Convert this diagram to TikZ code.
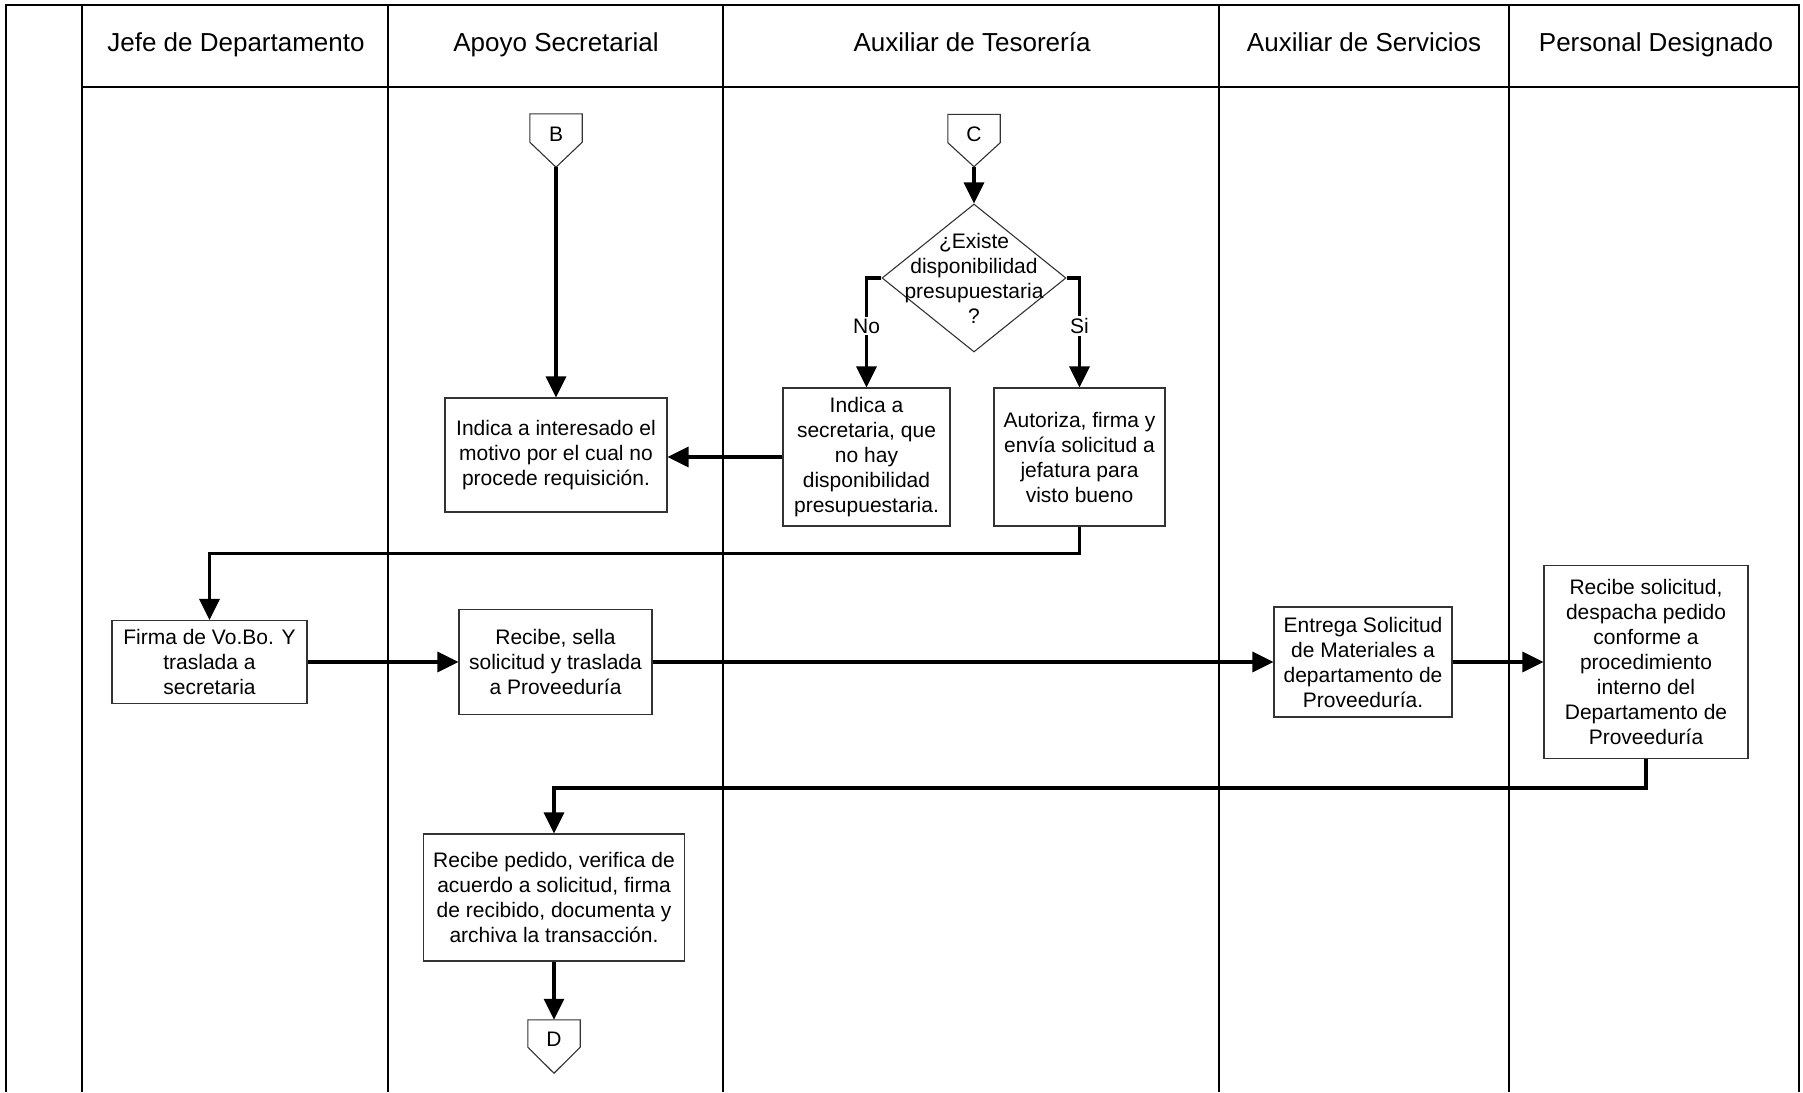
\documentclass[tikz,border=0pt]{standalone}
\usepackage{fontspec}
\setmainfont{Liberation Sans}
\usetikzlibrary{arrows.meta,shapes.geometric,calc}

\begin{document}
\begin{tikzpicture}[x=1pt,y=-1pt,
  every node/.style={font=\fontsize{21}{25}\selectfont, inner sep=0pt},
  frame/.style={line width=2.4pt, draw=black},
  lane/.style={line width=1.4pt, draw=black},
  header/.style={font=\fontsize{26}{30}\selectfont, anchor=base},
  procbox/.style={draw=black!80, line width=1.1pt, fill=white, align=center},
  conrect/.style={minimum width=52pt, minimum height=28pt},
  conshape/.style={draw=black!80, line width=1.1pt, fill=white},
  conn/.style={line width=3.2pt, -{Triangle[length=21pt,width=20pt]}},
  lbl/.style={fill=white, inner sep=2pt},
]
\useasboundingbox (0,0) rectangle (1803,1092);

% swimlane grid
\draw[frame] (6,1092) -- (6,5) -- (1799,5) -- (1799,1092);
\draw[lane] (82,5) -- (82,1092);
\draw[lane] (388,5) -- (388,1092);
\draw[lane] (723,5) -- (723,1092);
\draw[lane] (1219,5) -- (1219,1092);
\draw[lane] (1509,5) -- (1509,1092);
\draw[lane] (82,87) -- (1799,87);

% lane titles
\node[header] (h1) at (236,51) {Jefe de Departamento};
\node[header] (h2) at (556,51) {Apoyo Secretarial};
\node[header] (h3) at (972,51) {Auxiliar de Tesorería};
\node[header] (h4) at (1364,51) {Auxiliar de Servicios};
\node[header] (h5) at (1656,51) {Personal Designado};

% off-page connectors
\node[conrect] (B) at (556,128) {};
\draw[conshape] (B.north west) -- (B.north east) -- (B.south east)
  -- ($(B.south)+(0,25)$) -- (B.south west) -- cycle;
\coordinate (Btip) at ($(B.south)+(0,25)$);
\node[anchor=base] at ($(B.south)+(0,-1)$) {B};

\node[conrect] (C) at (974,128.5) {};
\draw[conshape] (C.north west) -- (C.north east) -- (C.south east)
  -- ($(C.south)+(0,24)$) -- (C.south west) -- cycle;
\coordinate (Ctip) at ($(C.south)+(0,24)$);
\node[anchor=base] at ($(C.south)+(0,-1)$) {C};

\node[conrect, minimum height=27pt] (D) at (554,1033.5) {};
\draw[conshape] (D.north west) -- (D.north east) -- (D.south east)
  -- ($(D.south)+(0,26)$) -- (D.south west) -- cycle;
\node[anchor=base] at ($(D.south)+(0,-1)$) {D};

% decision
\node[diamond, draw=black!80, line width=1.1pt, minimum width=184pt, minimum height=148pt] (dec) at (974,278) {};
\node[align=center] (dectext) at (974,278) {¿Existe\\disponibilidad\\presupuestaria\\?};

% process steps
\node[procbox, minimum width=222pt, minimum height=114pt] (ind1) at (556,455)
  {Indica a interesado el\\motivo por el cual no\\procede requisición.};
\node[procbox, minimum width=167pt, minimum height=138pt] (nohay) at (866.5,457)
  {Indica a\\secretaria, que\\no hay\\disponibilidad\\presupuestaria.};
\node[procbox, minimum width=171pt, minimum height=138pt] (autoriza) at (1079.5,457)
  {Autoriza, firma y\\envía solicitud a\\jefatura para\\visto bueno};
\node[procbox, minimum width=195pt, minimum height=83pt] (firma) at (209.5,662)
  {Firma de Vo.Bo. Y\\traslada a\\secretaria};
\node[procbox, minimum width=193pt, minimum height=105pt] (sella) at (555.5,662)
  {Recibe, sella\\solicitud y traslada\\a Proveeduría};
\node[procbox, minimum width=178pt, minimum height=110pt] (entrega) at (1363,662)
  {Entrega Solicitud\\de Materiales a\\departamento de\\Proveeduría.};
\node[procbox, minimum width=204pt, minimum height=193pt] (recsol) at (1646,662)
  {Recibe solicitud,\\despacha pedido\\conforme a\\procedimiento\\interno del\\Departamento de\\Proveeduría};
\node[procbox, minimum width=261pt, minimum height=127pt] (recped) at (554,897.5)
  {Recibe pedido, verifica de\\acuerdo a solicitud, firma\\de recibido, documenta y\\archiva la transacción.};

% connectors
\draw[conn] (Btip) -- (ind1.north);
\draw[conn] (Ctip) -- (dec.north);
\draw[conn] (dec.west) -| node[lbl, pos=0.72] {No} (nohay.north);
\draw[conn] (dec.east) -| node[lbl, pos=0.72] {Si} (autoriza.north);
\draw[conn] (nohay.west) -- (nohay.west -| ind1.east);
\draw[conn] (autoriza.south) -- ++(0,27) -| (firma.north);
\draw[conn] (firma.east) -- (firma.east -| sella.west);
\draw[conn] (sella.east) -- (sella.east -| entrega.west);
\draw[conn] (entrega.east) -- (entrega.east -| recsol.west);
\draw[conn] (recsol.south) -- ++(0,29) -| (recped.north);
\draw[conn] (recped.south) -- (D.north);
\end{tikzpicture}
\end{document}
